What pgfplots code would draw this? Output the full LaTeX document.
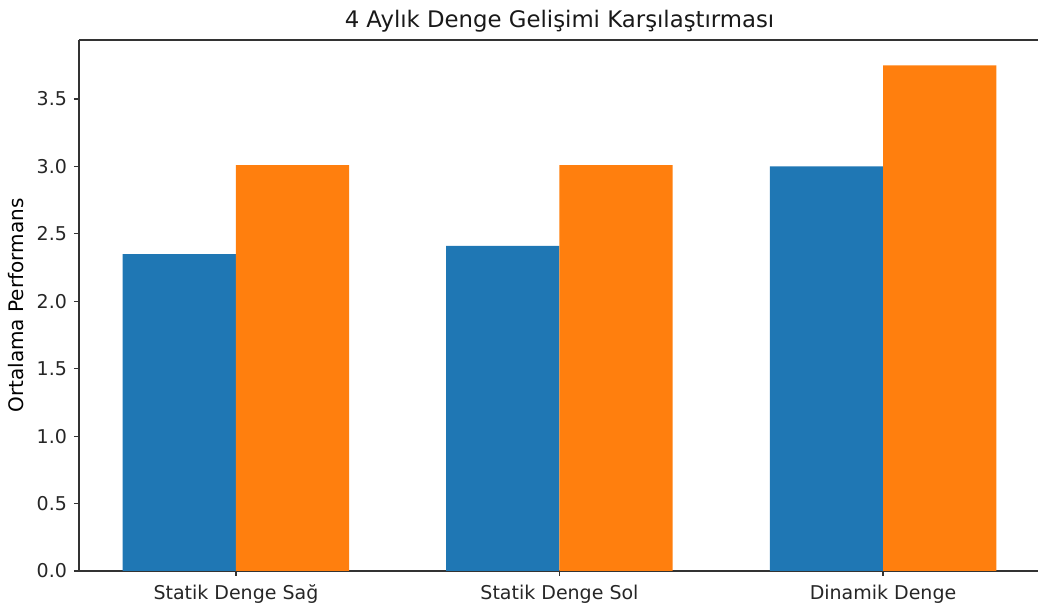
\documentclass[border=0pt]{standalone}
\usepackage{fontspec}
\setmainfont{DejaVu Sans}
\usepackage{pgfplots}
\pgfplotsset{compat=1.18}
\definecolor{mplblue}{HTML}{1F77B4}
\definecolor{mplorange}{HTML}{FF7F0E}
\begin{document}
\begin{tikzpicture}
\begin{axis}[
  name=ax,
  scale only axis,
  width=479.5pt, height=265.5pt,
  xmin=-0.485, xmax=2.479,
  ymin=0, ymax=3.9375,
  axis x line*=bottom, axis y line*=left,
  axis line style={-, draw=black!80, line width=0.7pt},
  xtick={0,1,2},
  xticklabels={Statik Denge Sağ, Statik Denge Sol, Dinamik Denge},
  ytick={0,0.5,...,3.5},
  yticklabel style={/pgf/number format/fixed,/pgf/number format/fixed zerofill,/pgf/number format/precision=1},
  /pgf/number format/assume math mode=true,
  xtick pos=left, ytick pos=left,
  tick align=outside,
  major tick length=2.5pt,
  tick style={draw=black!80, line width=0.6pt},
  ticklabel style={font=\fontsize{9.5}{11}\selectfont, text=black!85},
  ylabel={Ortalama Performans},
  ylabel style={font=\fontsize{9.5}{11}\selectfont, text=black!85},
  every axis y label/.style={at={(ticklabel cs:0.5)}, rotate=90, anchor=south, yshift=-0.5pt},
  xticklabel style={yshift=-1pt},
  ybar, bar width=0.35, bar shift=0pt,
  clip=true,
]
\addplot[fill=mplblue, draw=none] coordinates {(-0.175,2.35) (0.825,2.41) (1.825,3.00)};
\addplot[fill=mplorange, draw=none] coordinates {(0.175,3.01) (1.175,3.01) (2.175,3.75)};
\end{axis}
\draw[draw=black!80, line width=0.7pt] (ax.north west) -- (ax.north east);
\node[anchor=base, font=\fontsize{11.4}{13}\selectfont, text=black!90] at ([xshift=0.5pt, yshift=6pt]ax.north) {4 Aylık Denge Gelişimi Karşılaştırması};
\pgfresetboundingbox
\path ([xshift=-39.5pt,yshift=-16.5pt]ax.south west) rectangle ([yshift=20pt]ax.north east);
\end{tikzpicture}
\end{document}
